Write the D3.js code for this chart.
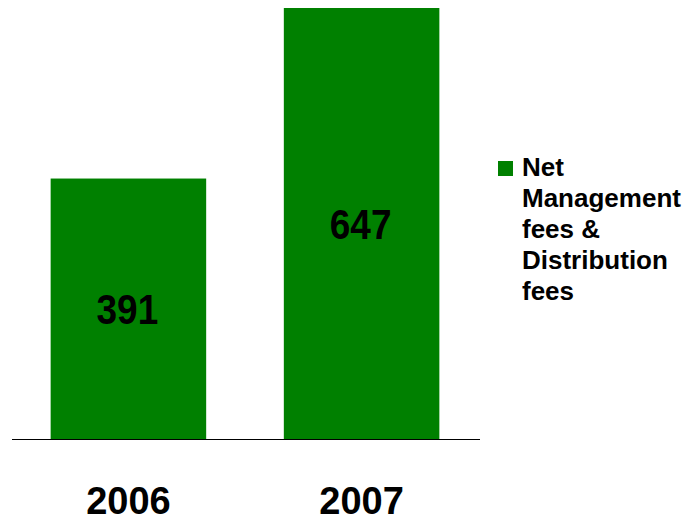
<!DOCTYPE html>
<html>
<head>
<meta charset="utf-8">
<script src="https://cdn.jsdelivr.net/npm/d3@7"></script>
<style>
  body { margin: 0; background: #fff; }
  text { font-family: "Liberation Sans", Arial, sans-serif; font-weight: bold; }
</style>
</head>
<body>
<script>
// chart data
var years = ['2006', '2007'];
var values = [391, 647];
var seriesName = ['Net', 'Management', 'fees &', 'Distribution', 'fees'];

var width = 689,
	height = 519;

var green = '#008000';

var svg = d3.select('body')
	.append('svg')
	.attr('width', width)
	.attr('height', height);

// x: band per year
var x = d3.scaleBand()
	.domain(years)
	.range([11, 479])
	.paddingInner(0.333)
	.paddingOuter(0.17);

// y: baseline at 439
var y = d3.scaleLinear()
	.domain([0, d3.max(values)])
	.range([439, 8]);

var data = years.map(function(d, i) { return { year: d, value: values[i] }; });

// bars
svg.append('g')
	.selectAll('rect')
	.data(data)
	.enter().append('rect')
	.attr('x', function(d) { return x(d.year); })
	.attr('y', function(d) { return y(d.value); })
	.attr('width', x.bandwidth())
	.attr('height', function(d) { return y(0) - y(d.value); })
	.attr('fill', green);

// value labels in the middle of each bar (slightly stretched like the original)
svg.append('g')
	.selectAll('text')
	.data(data)
	.enter().append('text')
	.attr('transform', function(d) {
		var cx = x(d.year) + x.bandwidth() / 2 - 1;
		var cy = (y(d.value) + y(0)) / 2;
		return 'translate(' + cx + ',' + cy + ') scale(1,1.15)';
	})
	.attr('text-anchor', 'middle')
	.attr('dy', '0.36em')
	.attr('font-size', 37)
	.attr('fill', '#000')
	.text(function(d) { return d.value; });

// baseline axis
var xAxis = d3.axisBottom(x).tickSize(0).tickPadding(0);
var axisG = svg.append('g')
	.attr('transform', 'translate(0,' + y(0) + ')')
	.call(xAxis);
axisG.select('.domain')
	.attr('d', 'M' + (x.range()[0] + 1) + ',0.5H' + (x.range()[1] + 1))
	.attr('stroke', '#000')
	.attr('stroke-width', 1);
axisG.selectAll('.tick text')
	.attr('y', 75)
	.attr('dy', 0)
	.attr('font-size', 38)
	.attr('font-family', '"Liberation Sans", Arial, sans-serif')
	.attr('font-weight', 'bold')
	.attr('fill', '#000');

// legend
var legend = svg.append('g')
	.attr('transform', 'translate(498,161)');
legend.append('rect')
	.attr('width', 15)
	.attr('height', 15)
	.attr('fill', green);
legend.append('text')
	.attr('x', 24)
	.attr('y', 15)
	.attr('font-size', 26)
	.attr('fill', '#000')
	.selectAll('tspan')
	.data(seriesName)
	.enter().append('tspan')
	.attr('x', 24)
	.attr('dy', function(d, i) { return i === 0 ? 0 : 31; })
	.text(function(d) { return d; });
</script>
</body>
</html>
